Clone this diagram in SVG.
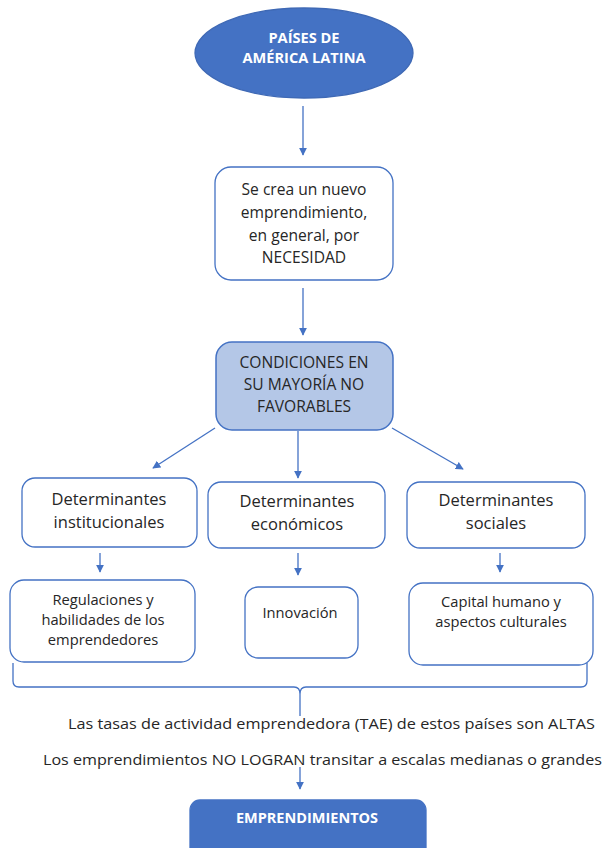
<svg xmlns="http://www.w3.org/2000/svg" width="603" height="848" viewBox="0 0 603 848">
<defs>
<marker id="ah" viewBox="0 0 10 10" refX="9" refY="5" markerWidth="8" markerHeight="8" markerUnits="userSpaceOnUse" orient="auto">
<path d="M0,0 L10,5 L0,10 Z" fill="#4472C4"/>
</marker>
<style>
.box{fill:#FFFFFF;stroke:#4472C4;stroke-width:1.3}
.lbox{fill:#B4C7E7;stroke:#4472C4;stroke-width:1.5}
.dbox{fill:#4472C4;stroke:#4472C4;stroke-width:1.3}
.t{font-family:"Open Sans","Liberation Sans",sans-serif;fill:#262626;text-anchor:middle}
.w{font-family:"Open Sans","Liberation Sans",sans-serif;fill:#FFFFFF;font-weight:bold;text-anchor:middle}
.c{fill:none;stroke:#4472C4;stroke-width:1.3}
</style>
</defs>
<rect width="603" height="848" fill="#FFFFFF"/>

<g id="connectors">
<line class="c" x1="303" y1="106" x2="303" y2="155" marker-end="url(#ah)"/>
<line class="c" x1="303" y1="288" x2="303" y2="335" marker-end="url(#ah)"/>
<line class="c" x1="215" y1="428" x2="153" y2="468" marker-end="url(#ah)"/>
<line class="c" x1="298" y1="431" x2="298" y2="478" marker-end="url(#ah)"/>
<line class="c" x1="392" y1="428" x2="463" y2="469" marker-end="url(#ah)"/>
<line class="c" x1="100" y1="553" x2="100" y2="572" marker-end="url(#ah)"/>
<line class="c" x1="298" y1="553" x2="298" y2="575" marker-end="url(#ah)"/>
<line class="c" x1="500" y1="553" x2="500" y2="572" marker-end="url(#ah)"/>
<path class="c" d="M13,663 L13,681 Q13,687 19,687 L294,687 Q300,687 300,694 L300,716 M587,663 L587,681 Q587,687 581,687 L306,687 Q300,687 300,694"/>
<line class="c" x1="300" y1="767" x2="300" y2="789" marker-end="url(#ah)"/>
</g>

<g id="paises">
<ellipse cx="304" cy="53" rx="109" ry="45" fill="#4472C4" stroke="#3F69B5" stroke-width="1.3"/>
<text class="w" x="304" y="43" font-size="14.6">PAÍSES DE</text>
<text class="w" x="304" y="63" font-size="14.6">AMÉRICA LATINA</text>
</g>

<g id="necesidad">
<rect class="box" x="215" y="167" width="178" height="113" rx="16"/>
<text class="t" x="304" y="195" font-size="15.6">Se crea un nuevo</text>
<text class="t" x="304" y="218" font-size="15.6">emprendimiento,</text>
<text class="t" x="304" y="241" font-size="15.6">en general, por</text>
<text class="t" x="304" y="263" font-size="15.6">NECESIDAD</text>
</g>

<g id="condiciones">
<rect class="lbox" x="216" y="342" width="177" height="88" rx="16"/>
<text class="t" x="304" y="368" font-size="15.6">CONDICIONES EN</text>
<text class="t" x="304" y="390" font-size="15.6">SU MAYORÍA NO</text>
<text class="t" x="304" y="412" font-size="15.6">FAVORABLES</text>
</g>

<g id="det-institucionales">
<rect class="box" x="22" y="478" width="175" height="69" rx="13"/>
<text class="t" x="109" y="505" font-size="16.5">Determinantes</text>
<text class="t" x="109" y="528" font-size="16.5">institucionales</text>
</g>

<g id="det-economicos">
<rect class="box" x="208" y="482" width="177" height="66" rx="13"/>
<text class="t" x="297" y="507" font-size="16.5">Determinantes</text>
<text class="t" x="297" y="530" font-size="16.5">económicos</text>
</g>

<g id="det-sociales">
<rect class="box" x="407" y="482" width="178" height="66" rx="13"/>
<text class="t" x="496" y="506" font-size="16.5">Determinantes</text>
<text class="t" x="496" y="529" font-size="16.5">sociales</text>
</g>

<g id="regulaciones">
<rect class="box" x="10" y="580" width="185" height="82" rx="14"/>
<text class="t" x="103" y="605" font-size="14.7">Regulaciones y</text>
<text class="t" x="103" y="625" font-size="14.7">habilidades de los</text>
<text class="t" x="103" y="645" font-size="14.7">emprendedores</text>
</g>

<g id="innovacion">
<rect class="box" x="245" y="587" width="113" height="71" rx="13"/>
<text class="t" x="300" y="618" font-size="14.7">Innovación</text>
</g>

<g id="capital">
<rect class="box" x="409" y="583" width="184" height="82" rx="14"/>
<text class="t" x="501" y="607" font-size="14.7">Capital humano y</text>
<text class="t" x="501" y="627" font-size="14.7">aspectos culturales</text>
</g>

<g id="conclusiones">
<text class="t" x="68" y="729" font-size="15" style="text-anchor:start" textLength="527" lengthAdjust="spacingAndGlyphs">Las tasas de actividad emprendedora (TAE) de estos países son ALTAS</text>
<text class="t" x="43" y="765" font-size="15" style="text-anchor:start" textLength="559" lengthAdjust="spacingAndGlyphs">Los emprendimientos NO LOGRAN transitar a escalas medianas o grandes</text>
</g>

<g id="emprendimientos">
<rect class="dbox" x="190" y="800" width="236" height="60" rx="10"/>
<text class="w" x="307" y="823" font-size="14.5">EMPRENDIMIENTOS</text>
</g>
</svg>
